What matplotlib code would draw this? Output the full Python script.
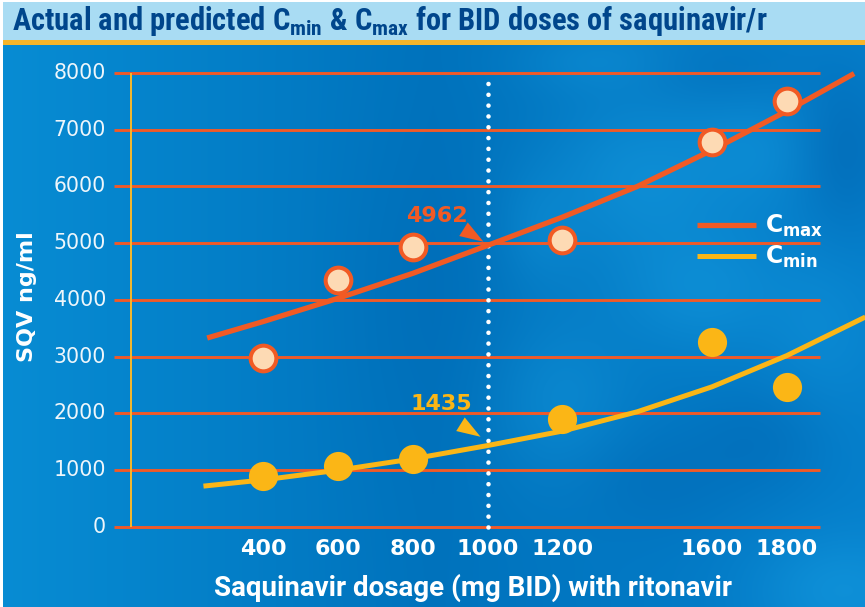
import numpy as np
import matplotlib
matplotlib.use("Agg")
import matplotlib.pyplot as plt
from matplotlib import transforms
from matplotlib.markers import MarkerStyle
from matplotlib.path import Path

# ---- data -------------------------------------------------------------
doses = [400, 600, 800, 1200, 1600, 1800]
cmax_obs = [2980, 4350, 4940, 5060, 6790, 7510]
cmin_obs = [900, 1075, 1205, 1895, 3265, 2475]

cmax_curve_dose = [250, 400, 600, 800, 1000, 1200, 1400, 1600, 1800, 1980]
cmax_curve = [3330, 3620, 4030, 4470, 4962, 5460, 6000, 6640, 7330, 7990]
cmin_curve_dose = [240, 400, 600, 800, 1000, 1200, 1400, 1600, 1800, 2010]
cmin_curve = [720, 830, 1000, 1200, 1435, 1690, 2030, 2470, 3020, 3700]

ref_dose = 1000
ref_cmax = 4962
ref_cmin = 1435

x_ticks = [400, 600, 800, 1000, 1200, 1600, 1800]
y_ticks = [0, 1000, 2000, 3000, 4000, 5000, 6000, 7000, 8000]

# ---- colours / fonts --------------------------------------------------
ORANGE = "#f15a24"
GRID = "#f05a28"
YELLOW = "#fbb616"
PEACH = "#fddab4"
TITLE_BLUE = "#00468c"
BAND = "#a9dcf3"
STRIPE = "#f7b52a"
NARROW = ["Roboto Condensed", "Liberation Sans Narrow", "Roboto", "DejaVu Sans"]
SANS = ["Roboto", "DejaVu Sans"]

W, H = 865, 607
fig = plt.figure(figsize=(W / 100, H / 100), dpi=100)

# ---- background -------------------------------------------------------
bg = fig.add_axes([0, 0, 1, 1])
bg.set_xlim(0, W)
bg.set_ylim(H, 0)
bg.axis("off")

yy, xx = np.mgrid[0:H, 0:W].astype(float)
u = xx / W
left = np.array([0.03, 0.55, 0.83])
mid = np.array([0.0, 0.45, 0.74])
right = np.array([0.02, 0.50, 0.80])
t1 = np.clip(u / 0.5, 0, 1)[..., None]
t2 = np.clip((u - 0.5) / 0.5, 0, 1)[..., None]
img = left * (1 - t1) + mid * t1
img = img * (1 - t2) + right * t2

light = np.array([0.10, 0.64, 0.90])
dark = np.array([0.0, 0.38, 0.68])
clouds = [
    (640, 180, 70, 60, 0.45), (700, 290, 60, 45, 0.4), (560, 400, 50, 60, 0.35),
    (760, 150, 50, 40, 0.3), (840, 590, 60, 40, 0.45), (600, 60, 60, 25, 0.3),
    (540, 230, 30, 40, 0.25), (820, 330, 40, 60, 0.25),
    (845, 150, 35, 60, -0.5), (660, 480, 60, 40, -0.3), (760, 440, 50, 40, -0.35),
    (420, 300, 60, 120, -0.2), (720, 70, 60, 25, -0.25),
]
for cx, cy, sx, sy, a in clouds:
    g = np.exp(-(((xx - cx) / sx) ** 2 + ((yy - cy) / sy) ** 2) / 2)[..., None]
    target = light if a > 0 else dark
    img = img * (1 - abs(a) * g) + target * abs(a) * g
bg.imshow(np.clip(img, 0, 1), extent=(0, W, H, 0), aspect="auto", zorder=0)
bg.add_patch(plt.Rectangle((0, 0), W, 40, color=BAND, zorder=1, lw=0))
bg.add_patch(plt.Rectangle((0, 40), W, 5, color=STRIPE, zorder=1, lw=0))
bg.add_patch(plt.Rectangle((0, 0), 3, H, color="white", zorder=2, lw=0))
bg.add_patch(plt.Rectangle((0, 0), W, 2, color="white", zorder=2, lw=0))

fig.text(12 / W, 1 - 21 / H,
         r"Actual and predicted C$\mathregular{_{min}}$ & C$\mathregular{_{max}}$ for BID doses of saquinavir/r",
         family=NARROW, weight="bold",
         fontsize=22, color=TITLE_BLUE, ha="left", va="center")

# ---- plot area --------------------------------------------------------
ax = fig.add_axes([0, 0, 1, 562 / 607])
ax.patch.set_alpha(0)
ax.axis("off")
ax.set_xlim(-304, 2009)
ax.set_ylim(-1410, 8493)

ax.hlines(y_ticks, 0, 1890, color=GRID, lw=2.1, zorder=2)
ax.vlines(45, 0, 8000, color="#f8b82a", lw=1.4, zorder=2)
ax.plot([ref_dose, ref_dose], [0, 8000], color="white", lw=3.3,
        linestyle=(0, (0.01, 2.35)), dash_capstyle="round", zorder=3)

cmax_line, = ax.plot(cmax_curve_dose, cmax_curve, color=ORANGE, lw=3.8,
                     solid_capstyle="butt", solid_joinstyle="round", zorder=4)
cmin_line, = ax.plot(cmin_curve_dose, cmin_curve, color=YELLOW, lw=3.6,
                     solid_capstyle="butt", solid_joinstyle="round", zorder=4)

ax.plot(doses, cmax_obs, ls="none", marker="o", ms=18.5, mfc=PEACH,
        mec=ORANGE, mew=2.9, zorder=5)
ax.plot(doses, cmin_obs, ls="none", marker="o", ms=21, mfc=YELLOW,
        mec="none", zorder=5)

# pointer: narrow triangle with its tip towards the reference point
pointer = MarkerStyle(Path([(1, 0), (-1, 0.68), (-1, -0.68), (1, 0)],
                           [Path.MOVETO, Path.LINETO, Path.LINETO, Path.CLOSEPOLY]),
                      transform=transforms.Affine2D().rotate_deg(-32))

for val, col, txt_off, tri_off in [
    (ref_cmax, ORANGE, (-51, 29), (-14.5, 10.3)),
    (ref_cmin, YELLOW, (-46, 42), (-17.5, 15.2)),
]:
    ax.annotate(f"{val}", xy=(ref_dose, val),
                xytext=(txt_off[0] * 0.72, txt_off[1] * 0.72),
                textcoords="offset points", ha="center", va="center",
                fontsize=16, weight="bold", color=col, zorder=6)
    tr = transforms.offset_copy(ax.transData, fig=fig, x=tri_off[0],
                                y=tri_off[1], units="dots")
    ax.plot([ref_dose], [val], transform=tr, marker=pointer, ms=17,
            color=col, mec="none", zorder=6)

# tick labels
for v in y_ticks:
    ax.text(-20, v, f"{v}", ha="right", va="center", fontsize=14.8,
            color="#eef6fb", zorder=6)
for d in x_ticks:
    ax.text(d, -385, f"{d}", ha="center", va="center", fontsize=16,
            weight="bold", color="white", zorder=6)

ax.text(960, -1075, "Saquinavir dosage (mg BID) with ritonavir",
        ha="center", va="center", fontsize=20, weight="bold", color="white",
        family=SANS)
ax.text(-232, 4053, "SQV ng/ml", rotation=90, ha="center", va="center",
        fontsize=16, weight="bold", color="white")

leg = ax.legend([cmax_line, cmin_line],
                [r"C$\mathregular{_{max}}$", r"C$\mathregular{_{min}}$"],
                loc="upper left", bbox_to_anchor=(697 / W, 1 - 213 / H),
                bbox_transform=fig.transFigure, frameon=False,
                borderpad=0, borderaxespad=0, handlelength=2.5,
                handletextpad=0.4, labelspacing=0.2,
                prop={"weight": "bold", "size": 17})
for t in leg.get_texts():
    t.set_color("white")

fig.savefig("out.png", dpi=100)
